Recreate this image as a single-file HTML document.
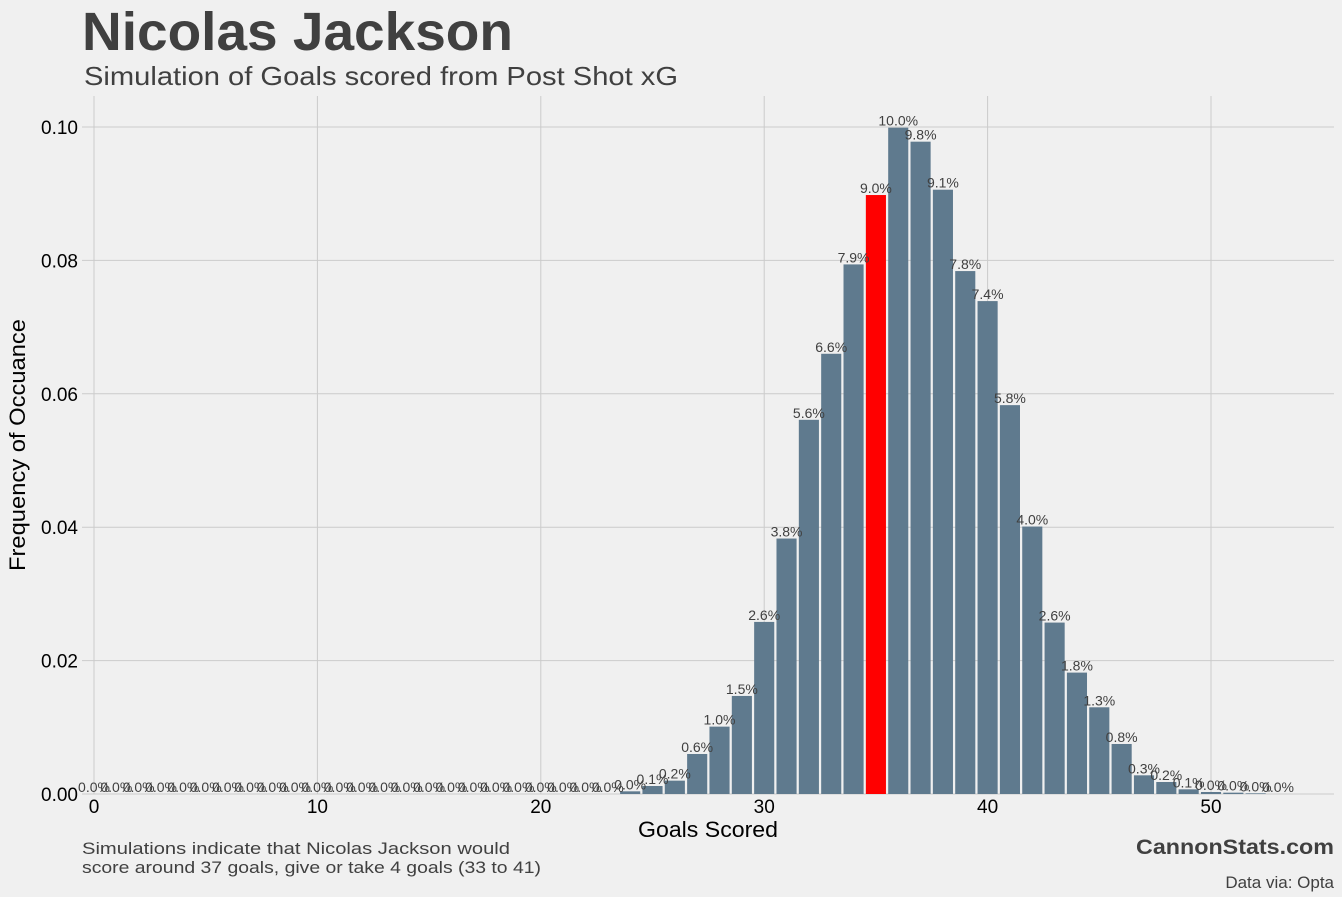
<!DOCTYPE html>
<html><head><meta charset="utf-8">
<style>
html,body{margin:0;padding:0;background:#f0f0f0;}
svg{display:block;font-family:"Liberation Sans",sans-serif;}
</style></head>
<body>
<svg id="chart" width="1342" height="897" viewBox="0 0 1342 897">
<rect width="1342" height="897" fill="#f0f0f0"/>
<text x="82" y="50" font-size="54" font-weight="bold" fill="#404040" textLength="431" lengthAdjust="spacingAndGlyphs">Nicolas Jackson</text>
<text x="84" y="85" font-size="26" fill="#404040" textLength="594" lengthAdjust="spacingAndGlyphs">Simulation of Goals scored from Post Shot xG</text>
<g id="gridG"></g>
<g id="barsG"></g>
<g id="labelsG"></g>
<g id="ticksG"></g>
<text x="708" y="837" font-size="22" fill="#000" text-anchor="middle" textLength="140" lengthAdjust="spacingAndGlyphs">Goals Scored</text>
<text transform="translate(25,445) rotate(-90)" font-size="22" fill="#000" text-anchor="middle" textLength="252" lengthAdjust="spacingAndGlyphs">Frequency of Occuance</text>
<text x="82" y="854" font-size="17" fill="#404040" textLength="428" lengthAdjust="spacingAndGlyphs">Simulations indicate that Nicolas Jackson would</text>
<text x="82" y="873" font-size="17" fill="#404040" textLength="459" lengthAdjust="spacingAndGlyphs">score around 37 goals, give or take 4 goals (33 to 41)</text>
<text x="1334" y="854" font-size="21" font-weight="bold" fill="#404040" text-anchor="end" textLength="198" lengthAdjust="spacingAndGlyphs">CannonStats.com</text>
<text x="1334" y="888" font-size="17" fill="#404040" text-anchor="end">Data via: Opta</text>
</svg>
<script>
const goals = [];
for (let i = 0; i <= 53; i++) goals.push(i);
const freq = [0,0,0,0,0,0,0,0,0,0,0,0,0,0,0,0,0,0,0,0,0,0,0,0,
  0.0004,0.0012,0.0020,0.0060,0.0101,0.0147,0.0258,0.0383,0.0561,0.0660,0.0794,0.0898,
  0.0999,0.0978,0.0906,0.0784,0.0739,0.0583,0.0401,0.0257,0.0182,0.0130,0.0075,0.0028,
  0.0018,0.0007,0.0003,0.0002,0.0001,0.0000];
const highlightGoal = 35;
const yTicks = [0, 0.02, 0.04, 0.06, 0.08, 0.10];
const yTickLabels = ["0.00","0.02","0.04","0.06","0.08","0.10"];
const xTicks = [0, 10, 20, 30, 40, 50];

const NS = "http://www.w3.org/2000/svg";
const xScale = v => 94 + v * 22.34;
const yScale = v => 794 - v * 6670;
const plotLeft = 82, plotRight = 1334, plotTop = 96, plotBottom = 794;

const gridG = document.getElementById('gridG');
const ticksG = document.getElementById('ticksG');
yTicks.forEach((t, i) => {
  const l = document.createElementNS(NS, 'line');
  
  
  l.setAttribute('x1', plotLeft); l.setAttribute('x2', plotRight);
  l.setAttribute('y1', yScale(t)); l.setAttribute('y2', yScale(t));
  l.setAttribute('stroke', '#cbcbcb'); l.setAttribute('stroke-width', '1');
  gridG.appendChild(l);
  const tx = document.createElementNS(NS, 'text');
  
  
  tx.setAttribute('x', 78); tx.setAttribute('y', yScale(t) + 7);
  tx.setAttribute('text-anchor', 'end'); tx.setAttribute('font-size', '19');
  tx.setAttribute('fill', '#000');
  tx.textContent = yTickLabels[i];
  ticksG.appendChild(tx);
});
xTicks.forEach(t => {
  const l = document.createElementNS(NS, 'line');
  
  
  l.setAttribute('x1', xScale(t)); l.setAttribute('x2', xScale(t));
  l.setAttribute('y1', plotTop); l.setAttribute('y2', plotBottom);
  l.setAttribute('stroke', '#cbcbcb'); l.setAttribute('stroke-width', '1');
  gridG.appendChild(l);
  const tx = document.createElementNS(NS, 'text');
  
  
  tx.setAttribute('x', xScale(t)); tx.setAttribute('y', 813);
  tx.setAttribute('text-anchor', 'middle'); tx.setAttribute('font-size', '19');
  tx.setAttribute('fill', '#000');
  tx.textContent = String(t);
  ticksG.appendChild(tx);
});

const barsG = document.getElementById('barsG');
const labelsG = document.getElementById('labelsG');
const bw = 22.34 * 0.9;
goals.forEach((g, i) => {
  const v = freq[i];
  const r = document.createElementNS(NS, 'rect');
  
  
  r.setAttribute('x', xScale(g) - bw / 2);
  r.setAttribute('width', bw);
  r.setAttribute('y', yScale(v));
  r.setAttribute('height', Math.max(0, plotBottom - yScale(v)));
  r.setAttribute('fill', g === highlightGoal ? '#ff0000' : '#5f7a8e');
  barsG.appendChild(r);
  const t = document.createElementNS(NS, 'text');
  
  
  t.setAttribute('x', xScale(g)); t.setAttribute('y', yScale(v) - 2);
  t.setAttribute('text-anchor', 'middle'); t.setAttribute('font-size', '14');
  t.setAttribute('fill', '#404040');
  t.textContent = (v * 100).toFixed(1) + '%';
  labelsG.appendChild(t);
});
</script>
</body></html>
